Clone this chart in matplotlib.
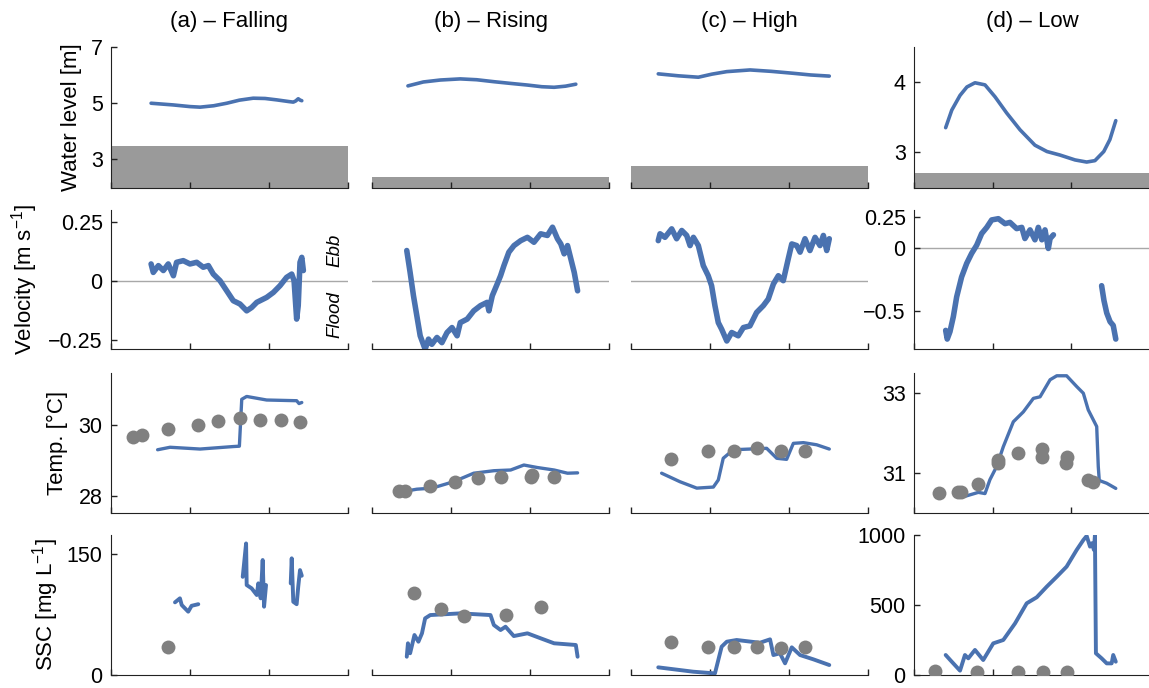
import numpy as np
import matplotlib.pyplot as plt

plt.rcParams['font.family'] = ['Liberation Sans', 'DejaVu Sans']
plt.rcParams['mathtext.fontset'] = 'custom'
plt.rcParams['mathtext.rm'] = 'Liberation Sans'
plt.rcParams['mathtext.it'] = 'Liberation Sans:italic'

# ---- data (time in hours across each panel) ----
titles = ['(a) \u2013 Falling', '(b) \u2013 Rising', '(c) \u2013 High', '(d) \u2013 Low']

# water level [m]
t_wl_a = [2.03, 3.14, 4.0, 4.51, 5.2, 5.86, 6.5, 7.2, 7.8, 8.39, 9.0, 9.23, 9.35, 9.48, 9.58, 9.66]
wl_a = [4.99, 4.93, 4.87, 4.85, 4.9, 4.99, 5.1, 5.17, 5.16, 5.11, 5.05, 5.03, 5.07, 5.15, 5.1, 5.08]
t_wl_b = [1.82, 2.6, 3.46, 4.47, 5.3, 6.17, 7.0, 7.87, 8.6, 9.22, 9.8, 10.32]
wl_b = [5.61, 5.75, 5.82, 5.86, 5.83, 5.76, 5.7, 5.64, 5.58, 5.56, 5.6, 5.67]
t_wl_c = [1.38, 2.4, 3.41, 4.1, 4.85, 6.03, 7.1, 8.22, 9.1, 10.04]
wl_c = [6.04, 5.97, 5.92, 6.03, 6.12, 6.18, 6.13, 6.06, 6.0, 5.96]
t_wl_d = [1.61, 1.92, 2.34, 2.69, 3.1, 3.61, 4.12, 4.71, 5.39, 6.15, 6.76, 7.42, 8.19,
          8.78, 9.2, 9.65, 9.96, 10.26]
wl_d = [3.35, 3.6, 3.81, 3.93, 3.99, 3.96, 3.79, 3.56, 3.32, 3.10, 3.01, 2.96, 2.89,
        2.86, 2.88, 3.01, 3.18, 3.45]
bed = [3.46, 2.35, 2.76, 2.71]

# velocity [m/s]
t_v_a = [2.03, 2.14, 2.40, 2.65, 2.90, 3.16, 3.32, 3.66, 4.0, 4.34, 4.67, 4.93, 5.18,
         5.52, 5.86, 6.19, 6.53, 6.87, 7.12, 7.38, 7.88, 8.22, 8.56, 8.89, 9.15, 9.27,
         9.4, 9.48, 9.57, 9.66, 9.74]
v_a = [0.071, 0.035, 0.064, 0.043, 0.071, 0.021, 0.078, 0.085, 0.071, 0.078, 0.057,
       0.064, 0.028, 0.0, -0.043, -0.085, -0.099, -0.128, -0.114, -0.092, -0.071, -0.05,
       -0.021, 0.014, 0.028, 0.0, -0.163, -0.106, 0.078, 0.099, 0.043]
t_v_b = [1.76, 1.93, 2.10, 2.27, 2.44, 2.69, 2.86, 3.03, 3.29, 3.54, 3.80, 4.05, 4.31,
         4.47, 4.82, 5.15, 5.49, 5.83, 5.92, 6.09, 6.34, 6.51, 6.68, 6.93, 7.19, 7.53,
         7.87, 8.2, 8.54, 8.88, 9.14, 9.39, 9.56, 9.73, 9.9, 10.07, 10.24, 10.41]
v_b = [0.128, 0.035, -0.064, -0.149, -0.234, -0.291, -0.248, -0.27, -0.241, -0.263,
       -0.22, -0.199, -0.234, -0.178, -0.163, -0.128, -0.106, -0.092, -0.128, -0.064,
       -0.014, 0.021, 0.064, 0.121, 0.149, 0.17, 0.184, 0.163, 0.199, 0.192, 0.227,
       0.178, 0.156, 0.114, 0.149, 0.092, 0.035, -0.043]
t_v_c = [1.38, 1.47, 1.72, 2.06, 2.31, 2.57, 2.82, 2.99, 3.16, 3.41, 3.66, 3.91, 4.08,
         4.25, 4.42, 4.59, 4.85, 5.1, 5.43, 5.69, 6.02, 6.36, 6.7, 6.95, 7.21, 7.46,
         7.71, 7.96, 8.14, 8.39, 8.56, 8.81, 9.06, 9.32, 9.57, 9.74, 9.91, 10.04]
v_c = [0.17, 0.199, 0.184, 0.22, 0.178, 0.213, 0.192, 0.149, 0.184, 0.149, 0.064,
       0.021, -0.021, -0.106, -0.178, -0.206, -0.256, -0.22, -0.234, -0.199, -0.192,
       -0.135, -0.106, -0.078, -0.014, 0.021, 0.0, 0.092, 0.156, 0.149, 0.121, 0.178,
       0.128, 0.184, 0.149, 0.192, 0.128, 0.178]
t_v_d = [1.61, 1.69, 1.83, 2.0, 2.17, 2.42, 2.68, 2.93, 3.19, 3.44, 3.7, 3.95, 4.29,
         4.63, 4.88, 5.22, 5.48, 5.64, 5.9, 6.15, 6.32, 6.5, 6.66, 6.83, 6.92, 7.09,
         8.3, 9.54, 9.66, 9.8, 9.97, 10.13, 10.26]
v_d = [-0.66, -0.73, -0.67, -0.55, -0.39, -0.23, -0.12, -0.04, 0.027, 0.12, 0.17, 0.23,
       0.24, 0.2, 0.21, 0.16, 0.17, 0.08, 0.15, 0.07, 0.17, 0.07, 0.15, 0.0, 0.08, 0.11,
       np.nan, -0.30, -0.42, -0.52, -0.59, -0.62, -0.73]

# temperature [C], logger line and bottle samples
t_T_a = [2.36, 2.99, 4.51, 6.19, 6.5, 6.62, 6.87, 7.88, 9.4, 9.52, 9.66]
T_a = [29.3, 29.37, 29.32, 29.39, 29.4, 30.72, 30.8, 30.7, 30.68, 30.6, 30.63]
ts_T_a = [1.13, 1.55, 2.87, 4.39, 5.4, 6.53, 7.54, 8.61, 9.57]
Ts_a = [29.67, 29.72, 29.88, 30.0, 30.11, 30.19, 30.14, 30.14, 30.09]
t_T_b = [1.76, 2.27, 3.04, 4.13, 5.15, 6.17, 7.02, 7.69, 8.37, 9.22, 9.9, 10.41]
T_b = [28.14, 28.19, 28.22, 28.4, 28.64, 28.71, 28.73, 28.87, 28.8, 28.73, 28.64, 28.65]
ts_T_b = [1.39, 1.68, 2.95, 4.18, 5.35, 6.51, 8.07, 8.1, 9.22]
Ts_b = [28.15, 28.15, 28.28, 28.38, 28.51, 28.53, 28.53, 28.58, 28.53]
t_T_c = [1.55, 2.48, 3.33, 4.17, 4.42, 4.67, 5.18, 6.87, 7.38, 7.88, 8.22, 8.73, 9.4, 10.04]
T_c = [28.64, 28.40, 28.22, 28.25, 28.45, 29.06, 29.3, 29.34, 29.06, 29.03, 29.48,
       29.5, 29.44, 29.32]
ts_T_c = [2.01, 3.88, 5.22, 6.36, 7.58, 8.83]
Ts_c = [29.04, 29.27, 29.27, 29.34, 29.27, 29.27]
t_T_d = [2.59, 3.27, 3.61, 3.86, 4.2, 4.54, 5.05, 5.56, 6.07, 6.41, 6.92, 7.26, 7.76,
         8.27, 8.61, 8.86, 9.29, 9.37, 9.42, 9.8, 10.26]
T_d = [30.4, 30.5, 30.47, 30.82, 31.15, 31.65, 32.28, 32.53, 32.87, 32.91, 33.34,
       33.44, 33.44, 33.17, 33.0, 32.58, 32.16, 31.15, 30.8, 30.73, 30.6]
ts_T_d = [1.27, 2.25, 2.39, 3.27, 4.26, 4.29, 5.3, 6.52, 6.52, 7.76, 7.73, 8.83, 9.09]
Ts_d = [30.48, 30.5, 30.5, 30.71, 31.24, 31.32, 31.5, 31.59, 31.38, 31.39, 31.25, 30.80, 30.77]

# SSC [mg/L], sensor line and bottle samples
t_S_a = [3.24, 3.49, 3.58, 3.91, 4.08, 4.42, 5.5,
         6.67, 6.73, 6.84, 6.87, 7.12, 7.38, 7.46, 7.58, 7.68, 7.75, 7.85, 8.5,
         9.1, 9.15, 9.23, 9.4, 9.48, 9.57, 9.66]
S_a = [90.3, 95.3, 87, 78.7, 86, 88, np.nan,
       122, 136.6, 163.5, 111.8, 107.7, 99.4, 113.9, 95.3, 142.9, 84.9, 111.8, np.nan,
       113.9, 145, 91, 88, 109.7, 130.4, 123.4]
ts_S_a = [2.87]
Ss_a = [34.4]
t_S_b = [1.76, 1.82, 1.93, 2.15, 2.35, 2.53, 2.69, 2.95, 4.47, 6.0, 6.17, 6.51, 6.76,
         7.18, 7.87, 8.54, 9.22, 9.9, 10.32, 10.41]
S_b = [22.7, 39.4, 27, 49.7, 41.4, 51.8, 70.4, 74.5, 76.6, 74.5, 62.1, 55.9, 60,
       48.4, 51.8, 45.6, 39.4, 38.1, 37.3, 22.7]
ts_S_b = [2.14, 3.49, 4.68, 6.78, 8.58]
Ss_b = [101.5, 81.6, 73.3, 74.5, 84]
t_S_c = [1.38, 3.15, 4.25, 4.42, 4.59, 4.85, 5.35, 6.53, 7.04, 7.21, 7.54, 7.8,
         8.14, 8.56, 9.23, 10.04]
S_c = [9.5, 4.1, 2, 18.6, 35.2, 41.4, 43.5, 40.1, 44.3, 24.8, 27, 14.5, 34.4, 24.8,
       19.5, 12.4]
ts_S_c = [2.01, 3.88, 5.22, 6.36, 7.58, 8.83]
Ss_c = [41, 34.4, 34.4, 34.4, 33.1, 34.4]
t_S_d = [1.61, 1.92, 2.34, 2.59, 2.76, 3.1, 3.52, 4.03, 4.54, 5.14, 5.73, 6.24, 6.75,
         7.26, 7.76, 8.27, 8.61, 8.78, 8.95, 9.04, 9.15, 9.2, 9.25, 9.54, 9.8, 10.05,
         10.13, 10.26]
S_d = [143, 95, 31, 143, 119, 179, 107, 226, 250, 369, 512, 555, 631, 702, 774, 893,
       964, 993, 917, 941, 893, 1000, 155, 119, 83, 83, 143, 95]
ts_S_d = [1.07, 3.22, 5.3, 6.57, 7.79]
Ss_d = [31, 19, 19, 19, 19]

# ---- figure ----
BLUE = '#4a72b0'
GREY = '#808080'
BAR = '#9a9a9a'
W, H = 1149, 688

col_left = [111, 372, 631, 914]
row_top = [47, 210, 373, 535]
row_h = [141, 139, 140, 140]

ylims = [[(1.96, 7.0)] * 3 + [(2.49, 4.5)],
         [(-0.29, 0.30)] * 3 + [(-0.81, 0.31)],
         [(27.52, 31.46)] * 3 + [(29.98, 33.51)],
         [(0, 174)] * 3 + [(0, 1000)]]
yticks = [[[3, 5, 7], [3, 4]],
          [[-0.25, 0, 0.25], [-0.5, 0, 0.25]],
          [[28, 30], [31, 33]],
          [[0, 150], [0, 500, 1000]]]
yticklabels = [[['3', '5', '7'], ['3', '4']],
               [['\u22120.25', '0', '0.25'], ['\u22120.5', '0', '0.25']],
               [['28', '30'], ['31', '33']],
               [['0', '150'], ['0', '500', '1000']]]
ylabels = ['Water level [m]', 'Velocity [m s$^{-1}$]', 'Temp. [\u00b0C]', 'SSC [mg L$^{-1}$]']
ylabel_x = [72, 25, 57, 46]

lines = [[(t_wl_a, wl_a), (t_wl_b, wl_b), (t_wl_c, wl_c), (t_wl_d, wl_d)],
         [(t_v_a, v_a), (t_v_b, v_b), (t_v_c, v_c), (t_v_d, v_d)],
         [(t_T_a, T_a), (t_T_b, T_b), (t_T_c, T_c), (t_T_d, T_d)],
         [(t_S_a, S_a), (t_S_b, S_b), (t_S_c, S_c), (t_S_d, S_d)]]
samples = [None, None,
           [(ts_T_a, Ts_a), (ts_T_b, Ts_b), (ts_T_c, Ts_c), (ts_T_d, Ts_d)],
           [(ts_S_a, Ss_a), (ts_S_b, Ss_b), (ts_S_c, Ss_c), (ts_S_d, Ss_d)]]
lw = [2.6, 4.0, 2.4, 2.8]

fig = plt.figure(figsize=(W / 100, H / 100), dpi=100)

for r in range(4):
    for c in range(4):
        w = 236 if c == 3 else 237
        ax = fig.add_axes([col_left[c] / W, 1 - (row_top[r] + row_h[r]) / H,
                           w / W, row_h[r] / H])
        ax.set_xlim(0, 12)
        ax.set_ylim(*ylims[r][c])
        ax.set_xticks([0, 4, 8, 12])
        ax.set_xticklabels([])
        for s in ['top', 'right']:
            ax.spines[s].set_visible(False)
        ax.spines['bottom'].set_color('#222222')
        ax.spines['left'].set_color('#222222')
        ax.tick_params(direction='in', length=4, width=1, color='#222222',
                       labelsize=15.5, pad=6)
        if c in (1, 2):
            ax.spines['left'].set_visible(False)
            ax.set_yticks([])
        else:
            k = 1 if c == 3 else 0
            ax.set_yticks(yticks[r][k])
            ax.set_yticklabels(yticklabels[r][k])

        if r == 0:
            ax.axhspan(ylims[r][c][0], bed[c], color=BAR, lw=0, zorder=0)
        if r == 1:
            ax.axhline(0, color='#a8a8a8', lw=1, zorder=0)

        t, y = lines[r][c]
        ax.plot(t, y, color=BLUE, lw=lw[r], solid_capstyle='round',
                solid_joinstyle='round', zorder=2)
        if samples[r] is not None:
            ts, ys = samples[r][c]
            ax.plot(ts, ys, 'o', color=GREY, ms=10, mec='none', zorder=3)

        if r == 0:
            fig.text((col_left[c] + w / 2) / W, 1 - 22 / H, titles[c],
                     ha='center', va='center', fontsize=16)
        if c == 0:
            fig.text(ylabel_x[r] / W, 1 - (row_top[r] + row_h[r] / 2) / H,
                     ylabels[r], rotation=90, ha='center', va='center', fontsize=16)
        if r == 1 and c == 0:
            ax.text(0.945, 0.71, 'Ebb', rotation=90, style='italic', fontsize=13.5,
                    ha='center', va='center', transform=ax.transAxes)
            ax.text(0.945, 0.25, 'Flood', rotation=90, style='italic', fontsize=13.5,
                    ha='center', va='center', transform=ax.transAxes)

fig.savefig('out.png', dpi=100)
